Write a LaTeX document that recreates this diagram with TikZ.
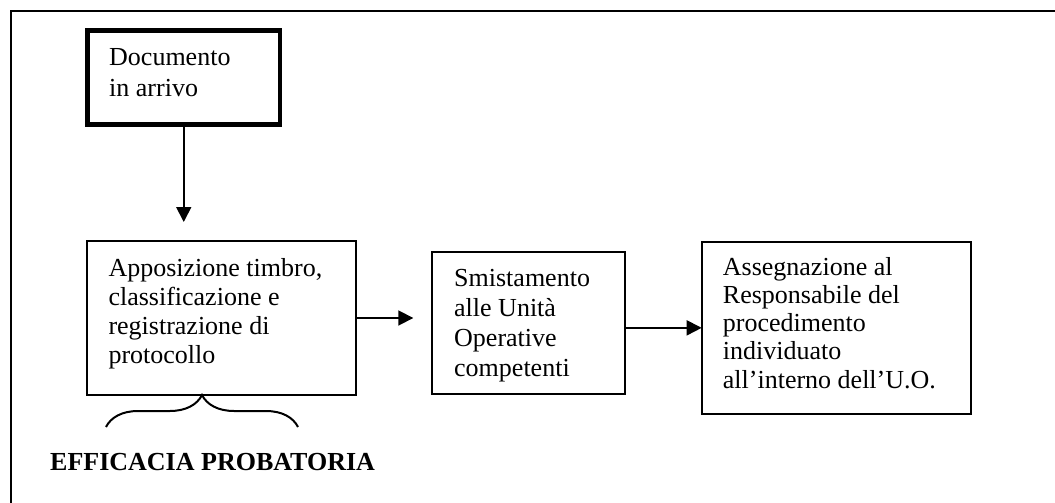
\documentclass[tikz,border=0pt]{standalone}
\usepackage{fontspec}
\setmainfont{Liberation Serif}
\usetikzlibrary{arrows.meta,decorations.pathreplacing}
\newcommand{\firstln}{\rule{0pt}{20pt}}
\begin{document}
\begin{tikzpicture}[x=1pt,y=-1pt,
  box/.style={draw, line width=2pt, inner sep=0pt, outer sep=0pt, anchor=north west},
  lbl/.style={anchor=north west, inner sep=0pt, align=left},
  arr/.style={line width=1.8pt, -{Triangle[length=15pt,width=15pt]}}]
\useasboundingbox (0,0) rectangle (1055,503);
\draw[line width=2.4pt] (11,503) -- (11,11) -- (1055,11);
% boxes
\node[box, line width=4.5pt, minimum width=192.5pt, minimum height=93.6pt] (b1) at (87.5,30.7) {};
\node[box, minimum width=269.3pt, minimum height=154pt] (b2) at (86.7,241) {};
\node[box, minimum width=192.7pt, minimum height=141.7pt] (b3) at (432.3,252.3) {};
\node[box, minimum width=269pt, minimum height=172.3pt] (b4) at (701.7,241.7) {};
% texts
\node[lbl, font=\fontsize{26}{31}\selectfont] (t1) at (109,45.7) {\firstln Documento\\in arrivo};
\node[lbl, font=\fontsize{26}{29}\selectfont] (t2) at (108.3,256.7) {\firstln Apposizione timbro,\\classificazione e\\registrazione di\\protocollo};
\node[lbl, font=\fontsize{26}{29.7}\selectfont] (t3) at (454,266.7) {\firstln Smistamento\\alle Unità\\Operative\\competenti};
\node[lbl, font=\fontsize{26}{28.2}\selectfont] (t4) at (722.7,255) {\firstln Assegnazione al\\Responsabile del\\procedimento\\individuato\\all’interno dell’U.O.};
\node[anchor=base west, inner sep=0pt, font=\bfseries\fontsize{26}{30}\selectfont] (eff) at (50,470) {EFFICACIA PROBATORIA};
% arrows
\draw[arr, shorten >=19pt] (b1.south) -- (b1.south |- b2.north);
\draw[arr, shorten >=19pt] (b2.east) -- (b3.west |- b2.east);
\draw[arr] (b3.east |- b4.west) -- (b4.west);
% brace
\draw[line width=2pt, decorate, decoration={brace, amplitude=32pt}] (106,427) -- (298,427);
\end{tikzpicture}
\end{document}
